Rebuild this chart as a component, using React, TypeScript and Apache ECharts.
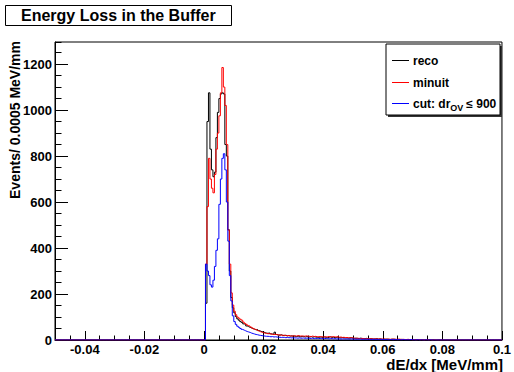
import React, { useEffect, useRef } from "react";
import * as echarts from "echarts";

// Histogram definition
const binWidth = 0.0005;
const xMin = -0.05;
const xMax = 0.1;
const yMax = 1296;
const dataStart = 0; // first listed bin starts at dE/dx = 0

// Bin contents from dE/dx = 0 upward (0.0005 MeV/mm per bin); all other bins are empty
const recoCounts = [
  0, 160, 950, 1075, 830, 740, 710, 730, 880, 990, 1050, 1070, 1075, 1070, 850, 800, 480, 300, 185, 140,
  118, 102, 92, 86, 80, 76, 70, 68, 61, 58, 55, 52, 50, 47, 44, 46, 41, 39, 36, 35,
  32, 30, 29, 31, 27, 26, 25, 34, 24, 22, 21, 23, 20, 19, 21, 18, 19, 17, 18, 16,
  17, 15, 16, 18, 14, 15, 16, 13, 15, 14, 13, 15, 12, 14, 13, 12, 11, 13, 12, 11,
  13, 12, 10, 12, 14, 11, 12, 10, 11, 13, 10, 9, 11, 10, 9, 10, 8, 9, 10, 8,
  7, 8, 7, 6, 8, 7, 6, 5, 7, 6, 5, 6, 5, 4, 5, 6, 4, 5, 4, 3,
  4, 3, 4, 3, 2, 3, 4, 3, 2, 3, 2, 2, 3, 1, 2, 2, 1, 2, 1, 1,
  1, 2, 1, 1, 0, 1, 1, 0, 1, 0, 1, 0, 0, 1, 0, 0, 0, 1, 0, 0,
];

const minuitCounts = [
  0, 330, 580, 790, 700, 660, 640, 720, 830, 900, 975, 1075, 1185, 1100, 1020, 850, 478, 330, 205, 152,
  125, 110, 100, 95, 90, 86, 78, 72, 68, 63, 60, 56, 52, 48, 45, 42, 39, 36, 34, 32,
  30, 29, 27, 28, 26, 25, 24, 25, 23, 22, 22, 21, 20, 21, 19, 18, 20, 18, 17, 18,
  18, 17, 19, 18, 17, 18, 16, 17, 18, 16, 16, 15, 17, 15, 16, 14, 15, 14, 15, 13,
  14, 13, 14, 15, 13, 14, 15, 13, 14, 14, 12, 13, 11, 12, 10, 11, 10, 9, 10, 9,
  8, 7, 8, 7, 6, 7, 6, 6, 5, 6, 5, 5, 6, 4, 5, 5, 4, 5, 4, 4,
  4, 4, 3, 4, 3, 4, 3, 4, 3, 3, 4, 3, 2, 3, 2, 2, 3, 2, 2, 1,
  2, 1, 1, 2, 1, 1, 1, 0, 1, 1, 0, 1, 0, 0, 1, 0, 0, 0, 0, 0,
];

const cutCounts = [
  0, 330, 300, 280, 240, 230, 260, 320, 390, 440, 590, 700, 790, 810, 740, 600, 430, 280, 170, 105,
  80, 68, 60, 55, 50, 46, 43, 40, 37, 35, 33, 30, 28, 26, 24, 23, 21, 20, 19, 18,
  17, 16, 16, 15, 14, 15, 13, 14, 13, 12, 12, 11, 12, 11, 10, 11, 10, 10, 9, 10,
  9, 9, 8, 9, 8, 8, 9, 7, 8, 8, 7, 7, 8, 6, 7, 7, 6, 7, 6, 6,
  6, 7, 6, 5, 6, 6, 5, 6, 5, 5, 5, 4, 5, 5, 4, 5, 4, 4, 5, 4,
  4, 4, 3, 4, 4, 3, 3, 4, 3, 3, 3, 2, 3, 3, 2, 3, 2, 2, 3, 2,
  2, 2, 2, 1, 2, 2, 1, 2, 2, 1, 2, 1, 1, 2, 1, 1, 1, 1, 2, 1,
  1, 0, 1, 1, 0, 1, 0, 0, 1, 0, 0, 1, 0, 0, 0, 0, 0, 0, 0, 0,
];

const xMajorTicks = [-0.04, -0.02, 0, 0.02, 0.04, 0.06, 0.08, 0.1];
const yMajorTicks = [0, 200, 400, 600, 800, 1000, 1200];

const seriesNames = ["reco", "minuit", "cut"];
const seriesColors = ["#000000", "#ff0000", "#0000ff"];

const titleText = "Energy Loss in the Buffer";
const xTitle = "dE/dx [MeV/mm]";
const yTitle = "Events/ 0.0005 MeV/mm";

const FONT = "'Liberation Sans', Arial, Helvetica, sans-serif";

function histPoints(counts: number[]): [number, number][] {
  const nBins = Math.round((xMax - xMin) / binWidth);
  const offset = Math.round((dataStart - xMin) / binWidth);
  const pts: [number, number][] = [];
  for (let i = 0; i <= nBins; i++) {
    const k = Math.min(i, nBins - 1) - offset;
    const v = k >= 0 && k < counts.length ? counts[k] : 0;
    pts.push([xMin + i * binWidth, v]);
  }
  return pts;
}

function textWidth(text: string, font: string): number {
  const c = document.createElement("canvas").getContext("2d");
  if (!c) return text.length * 6;
  c.font = font;
  return c.measureText(text).width;
}

export default function App() {
  const ref = useRef<HTMLDivElement>(null);

  useEffect(() => {
    if (!ref.current) return;
    const chart = echarts.init(ref.current, undefined, { renderer: "svg" });

    const allCounts = [recoCounts, minuitCounts, cutCounts];

    const legX = 386;
    const legY = 44;
    const legW = 114;
    const legH = 71;
    const rowY = [60.5, 82.5, 103.5];
    const lineX0 = 392;
    const lineX1 = 409;
    const textX = 413;
    const legFont = `bold 12px ${FONT}`;
    const subFont = `bold 9px ${FONT}`;
    const w1 = textWidth("cut: dr", legFont);
    const w2 = textWidth("OV", subFont);

    const legendGraphics: any[] = [
      {
        type: "rect",
        shape: { x: legX + 2, y: legY + 2, width: legW, height: legH },
        style: { fill: "#333" },
        z: 100,
      },
      {
        type: "rect",
        shape: { x: legX, y: legY, width: legW, height: legH },
        style: { fill: "#fff", stroke: "#000", lineWidth: 1 },
        z: 101,
      },
    ];
    seriesNames.forEach((name, i) => {
      legendGraphics.push({
        type: "line",
        shape: { x1: lineX0, y1: rowY[i], x2: lineX1, y2: rowY[i] },
        style: { stroke: seriesColors[i], lineWidth: 1 },
        z: 102,
      });
      if (i < 2) {
        legendGraphics.push({
          type: "text",
          x: textX,
          y: rowY[i],
          style: { text: name, font: legFont, fill: "#000", align: "left", verticalAlign: "middle" },
          z: 102,
        });
      }
    });
    legendGraphics.push(
      {
        type: "text",
        x: textX,
        y: rowY[2],
        style: { text: "cut: dr", font: legFont, fill: "#000", align: "left", verticalAlign: "middle" },
        z: 102,
      },
      {
        type: "text",
        x: textX + w1,
        y: rowY[2] + 4,
        style: { text: "OV", font: subFont, fill: "#000", align: "left", verticalAlign: "middle" },
        z: 102,
      },
      {
        type: "text",
        x: textX + w1 + w2 + 3,
        y: rowY[2],
        style: { text: "≤ 900", font: legFont, fill: "#000", align: "left", verticalAlign: "middle" },
        z: 102,
      }
    );

    const axisBase = {
      type: "value" as const,
      splitLine: { show: false },
    };

    chart.setOption({
      animation: false,
      backgroundColor: "#ffffff",
      title: {
        text: titleText,
        left: 5,
        top: 5,
        padding: [2, 16, 3, 16],
        borderColor: "#000",
        borderWidth: 1,
        backgroundColor: "#fff",
        textStyle: { fontFamily: FONT, fontWeight: "bold", fontSize: 16, color: "#000" },
      },
      grid: {
        left: 55,
        right: 11,
        top: 42,
        bottom: 32,
        show: true,
        borderColor: "#000",
        borderWidth: 1,
        backgroundColor: "transparent",
      },
      xAxis: [
        {
          ...axisBase,
          min: xMin,
          max: xMax,
          interval: 0.005,
          position: "bottom",
          axisLine: { show: true, onZero: false, lineStyle: { color: "#000", width: 1 } },
          axisTick: { show: true, inside: true, length: 4.5, lineStyle: { color: "#000" } },
          axisLabel: { show: false },
        },
        {
          ...axisBase,
          min: xMin,
          max: xMax,
          position: "bottom",
          axisLine: { show: false, onZero: false },
          axisTick: { show: true, inside: true, length: 9, customValues: xMajorTicks, lineStyle: { color: "#000" } },
          axisLabel: {
            show: true,
            customValues: xMajorTicks,
            margin: 3,
            fontFamily: FONT,
            fontWeight: "bold",
            fontSize: 13,
            color: "#000",
            formatter: (v: number) => String(+Number(v).toFixed(4)),
          },
        },
      ],
      yAxis: [
        {
          ...axisBase,
          min: 0,
          max: yMax,
          interval: 50,
          position: "left",
          axisLine: { show: true, onZero: false, lineStyle: { color: "#000", width: 1 } },
          axisTick: { show: true, inside: true, length: 6.5, lineStyle: { color: "#000" } },
          axisLabel: { show: false },
        },
        {
          ...axisBase,
          min: 0,
          max: yMax,
          position: "left",
          axisLine: { show: false, onZero: false },
          axisTick: { show: true, inside: true, length: 13, customValues: yMajorTicks, lineStyle: { color: "#000" } },
          axisLabel: {
            show: true,
            customValues: yMajorTicks,
            margin: 3,
            fontFamily: FONT,
            fontWeight: "bold",
            fontSize: 13,
            color: "#000",
            formatter: (v: number) => String(Math.round(Number(v))),
          },
        },
      ],
      series: seriesNames.map((name, i) => ({
        name,
        type: "line",
        step: "end",
        xAxisIndex: 0,
        yAxisIndex: 0,
        data: histPoints(allCounts[i]),
        symbol: "none",
        showSymbol: false,
        lineStyle: { color: seriesColors[i], width: 1 },
        itemStyle: { color: seriesColors[i] },
        z: 2 + i,
      })),
      graphic: [
        {
          type: "text",
          x: 15,
          y: 41,
          rotation: Math.PI / 2,
          style: {
            text: yTitle,
            font: `bold 14px ${FONT}`,
            fill: "#000",
            align: "right",
            verticalAlign: "middle",
          },
        },
        {
          type: "text",
          x: 503,
          y: 364,
          style: {
            text: xTitle,
            font: `bold 15px ${FONT}`,
            fill: "#000",
            align: "right",
            verticalAlign: "middle",
          },
        },
        ...legendGraphics,
      ],
    });

    return () => chart.dispose();
  }, []);

  return (
    <div
      ref={ref}
      style={{ position: "absolute", left: 0, top: 0, width: 514, height: 372 }}
    />
  );
}
